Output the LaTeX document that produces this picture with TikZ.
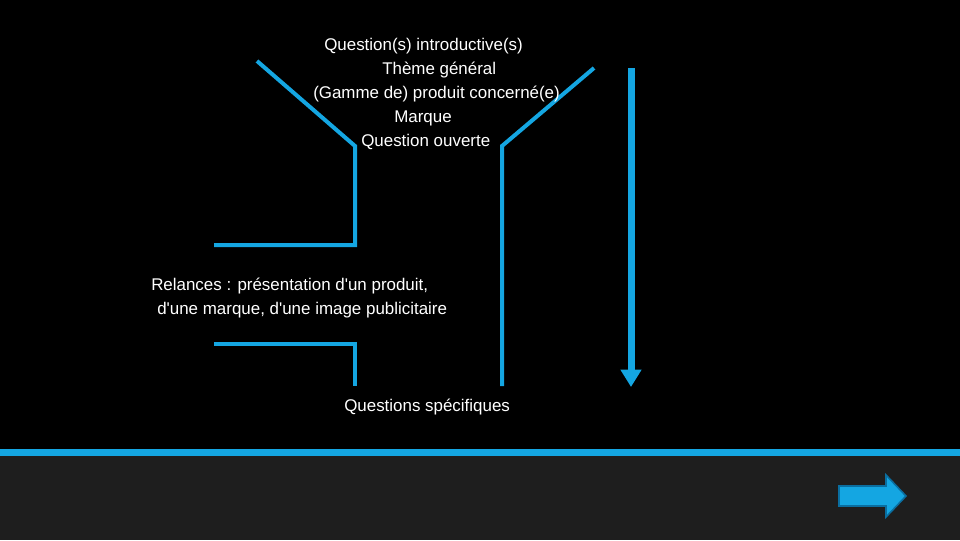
\documentclass[tikz,border=0pt]{standalone}
\usepackage{fontspec}
\setmainfont{Liberation Sans}[Ligatures=TeXOff]
\usetikzlibrary{arrows.meta}
\definecolor{funnelblue}{RGB}{20,166,226}
\definecolor{edgeblue}{RGB}{10,110,160}
\definecolor{footgray}{RGB}{30,30,30}
\tikzset{
  label text/.style={text=white,inner sep=0pt,font=\fontsize{12.7}{15}\selectfont},
  funnel/.style={funnelblue,line width=3pt},
}
\begin{document}
\begin{tikzpicture}[x=0.75pt,y=-0.75pt]
  % Background
  \fill[black] (0,0) rectangle (960,450);
  \fill[footgray] (0,450) rectangle (960,540);
  \fill[funnelblue] (0,449) rectangle (960,456);
  \useasboundingbox (0,0) rectangle (960,540);

  % Funnel
  \draw[funnel] (257,61) -- (355,146) -- (355,245) -- (214,245);
  \draw[funnel] (594,68) -- (502,146) -- (502,386);
  \draw[funnel] (214,344) -- (355,344) -- (355,386);

  % Direction
  \coordinate (top) at (631,68);
  \coordinate (bottom) at (631,387);
  \draw[funnelblue,line width=5.25pt,-{Triangle[width=15pt,length=13pt]}] (top) -- (bottom);

  % Texts
  \node[label text,anchor=west] (intro) at (324,46) {Question(s) introductive(s)};
  \node[label text,anchor=west] (theme) at (382,70) {Thème général};
  \node[label text,anchor=west] (gamme) at (313,94) {(Gamme de) produit concerné(e)};
  \node[label text,anchor=west] (marque) at (394,118) {Marque};
  \node[label text,anchor=west] (ouverte) at (361,142) {Question ouverte};
  \node[label text,anchor=west] (relances) at (151,286) {Relances : présentation d'un produit,};
  \node[label text,anchor=west] (relances2) at (157,310) {d'une marque, d'une image publicitaire};
  \node[label text,anchor=west] (specif) at (344,407) {Questions spécifiques};

  % Next button
  \filldraw[fill=funnelblue,draw=edgeblue,line width=1.2pt]
    (839,486) -- (886,486) -- (886,475) -- (906,496) -- (886,517) -- (886,506) -- (839,506) -- cycle;
\end{tikzpicture}
\end{document}
